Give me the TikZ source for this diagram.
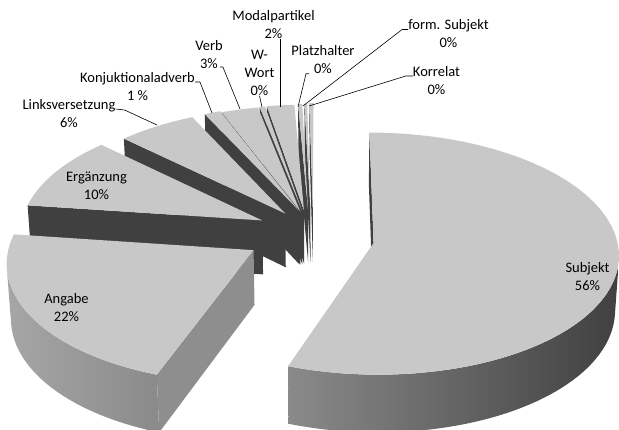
\documentclass[tikz,border=0pt]{standalone}
\usepackage{fontspec}
\setmainfont{Carlito}

\definecolor{topgray}{HTML}{C8C8C8}
\definecolor{sidedark}{HTML}{404040}
\definecolor{sidemid}{HTML}{8E8E8E}
\definecolor{wallmid}{HTML}{555555}
\definecolor{walllight}{HTML}{A6A6A6}
\definecolor{wallgray}{HTML}{8A8A8A}

\newcommand{\pieh}{0.26}
% top face of a slice: from, to, offset x, offset y
\newcommand{\pietop}[4]{%
  \fill[topgray] ({projx(#3,#4,\pieh)},{projy(#3,#4,\pieh)})
    -- plot[domain=#1:#2, samples=50] ({projx(#3+sin(\x),#4+cos(\x),\pieh)},{projy(#3+sin(\x),#4+cos(\x),\pieh)})
    -- cycle;}
% cut face of a slice: angle, offset x, offset y, colour
\newcommand{\pieface}[4]{%
  \fill[#4] ({projx(#2,#3,\pieh)},{projy(#2,#3,\pieh)})
    -- ({projx(#2+sin(#1),#3+cos(#1),\pieh)},{projy(#2+sin(#1),#3+cos(#1),\pieh)})
    -- ({projx(#2+sin(#1),#3+cos(#1),0)},{projy(#2+sin(#1),#3+cos(#1),0)})
    -- ({projx(#2,#3,0)},{projy(#2,#3,0)}) -- cycle;}
% outer wall of a slice: from, to, offset x, offset y, shading options
\newcommand{\piewall}[5]{%
  \shade[#5] plot[domain=#1:#2, samples=50] ({projx(#3+sin(\x),#4+cos(\x),\pieh)},{projy(#3+sin(\x),#4+cos(\x),\pieh)})
    -- plot[domain=#2:#1, samples=50] ({projx(#3+sin(\x),#4+cos(\x),0)},{projy(#3+sin(\x),#4+cos(\x),0)})
    -- cycle;}

\begin{document}
\begin{tikzpicture}[x=1pt, y=-1pt,
    declare function={persp(\Y,\Z)=10/(10+0.86*\Y-0.51*\Z);
      projx(\X,\Y,\Z)=322.3+240*\X*persp(\Y,\Z);
      projy(\X,\Y,\Z)=292.5-240*(0.51*\Y+0.86*\Z)*persp(\Y,\Z);},
    lbl/.style={font=\fontsize{14.5}{18}\selectfont, align=center, inner sep=0pt},
    leader/.style={black, line width=0.6pt}]
  \useasboundingbox (0,0) rectangle (619,429);

  % Korrelat
  \pieface{358.92}{-0.04}{0.255}{sidedark}
  \pietop{358.92}{360}{-0.04}{0.255}
  % form. Subjekt
  \pieface{358.2}{-0.05}{0.25}{sidedark}
  \pietop{358.2}{358.92}{-0.05}{0.25}
  % Platzhalter
  \pieface{357.12}{-0.06}{0.245}{sidedark}
  \pietop{357.12}{358.2}{-0.06}{0.245}
  % Modalpartikel
  \pieface{349.92}{-0.077}{0.239}{sidedark}
  \pietop{349.92}{357.12}{-0.077}{0.239}
  % W-Wort
  \pieface{348.48}{-0.085}{0.235}{sidedark}
  \pietop{348.48}{349.92}{-0.085}{0.235}
  % Verb
  \pieface{338.76}{-0.093}{0.23}{sidedark}
  \pietop{338.76}{348.48}{-0.093}{0.23}
  % Konjuktionaladverb
  \pieface{334.44}{-0.10}{0.24}{sidedark}
  \pietop{334.44}{338.76}{-0.10}{0.24}
  % Linksversetzung
  \pieface{313.56}{-0.155}{0.21}{sidedark}
  \pietop{313.56}{334.44}{-0.155}{0.21}
  % Ergänzung
  \pieface{277.56}{-0.25}{0.15}{sidedark}
  \pietop{277.56}{313.56}{-0.25}{0.15}
  % Angabe
  \pieface{199.8}{-0.28}{-0.10}{sidemid}
  \piewall{199.8}{262}{-0.28}{-0.10}{left color=walllight, right color=wallgray}
  \pietop{199.8}{277.56}{-0.28}{-0.10}
  % Subjekt
  \pieface{0}{0.21}{-0.041}{sidedark}
  \piewall{98}{199.8}{0.21}{-0.041}{left color=wallgray, middle color=wallmid, right color=sidedark}
  \pietop{0}{199.8}{0.21}{-0.041}

  % Beschriftungen
  \node[lbl] (lSubj) at (587.5,277) {Subjekt\\56\%};
  \node[lbl] (lAng) at (66.5,308) {Angabe\\22\%};
  \node[lbl] (lErg) at (96.5,185.5) {Ergänzung\\10\%};
  \node[lbl] (lLinks) at (69,114) {Linksversetzung\\6\%};
  \node[lbl] (lKonj) at (137.5,87) {Konjuktionaladverb\\1 \%};
  \node[lbl] (lVerb) at (209,55) {Verb\\3\%};
  \node[lbl] (lW) at (259.5,73) {W-\\Wort\\0\%};
  \node[lbl] (lModal) at (273.5,25) {Modalpartikel\\2\%};
  \node[lbl] (lPlatz) at (323,59.5) {Platzhalter\\0\%};
  \node[lbl] (lForm) at (448.5,33.5) {form. Subjekt\\0\%};
  \node[lbl] (lKorr) at (436.5,81) {Korrelat\\0\%};

  % Führungslinien
  \coordinate (tLinks) at (157,125);
  \coordinate (tKonj) at (212,113);
  \coordinate (tVerb) at (240,109);
  \coordinate (tW) at (262,107);
  \coordinate (tModal) at (280,107);
  \coordinate (tPlatz) at (298,107);
  \coordinate (tForm) at (303,106);
  \coordinate (tKorr) at (309,106);
  \draw[leader] ([yshift=5pt]lLinks.east) -- ++(9,1) -- (tLinks);
  \draw[leader] ([yshift=5pt]lKonj.east) -- ++(5,0) -- (tKonj);
  \draw[leader] ([xshift=-3pt,yshift=-12pt]lVerb.east) -- ++(3,0) -- (tVerb);
  \draw[leader] (lW.south) -- (tW);
  \draw[leader] (tModal |- lModal.south) -- (tModal);
  \draw[leader] ([xshift=-14pt]lPlatz.south) -- ++(-3,0) -- (tPlatz);
  \draw[leader] ([yshift=4pt]lForm.west) -- ++(-6,0) -- (tForm);
  \draw[leader] ([yshift=5pt]lKorr.west) -- ++(-7,0) -- (tKorr);
\end{tikzpicture}
\end{document}
